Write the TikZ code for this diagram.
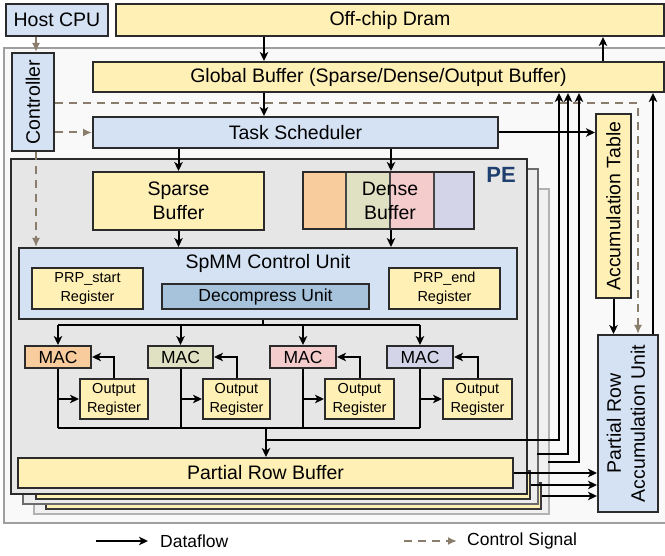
\documentclass[tikz,border=0pt]{standalone}
\usepackage{fontspec}
\usepackage{graphicx}
\setmainfont{Liberation Sans}
\usetikzlibrary{arrows.meta}

\definecolor{cblue}{HTML}{D5E2F4}
\definecolor{cyel}{HTML}{FFF0B5}
\definecolor{cdec}{HTML}{A7C3DC}
\definecolor{corg}{HTML}{F9CC9D}
\definecolor{colv}{HTML}{E0E0C3}
\definecolor{cpnk}{HTML}{F5CCCC}
\definecolor{clav}{HTML}{D3D4E8}
\definecolor{cctl}{HTML}{8B7D6B}
\definecolor{pefill}{HTML}{E6E6E6}
\definecolor{petext}{HTML}{1F3F6E}
\definecolor{edge}{HTML}{2B2B2B}

\newcommand\fbig{\fontsize{19.5}{24}\selectfont}
\newcommand\fmid{\fontsize{17.5}{21}\selectfont}
\newcommand\fsmall{\fontsize{14.5}{19}\selectfont}

% rectangle node spanning (x1,y1)-(x2,y2), y measured downwards
\newcommand\blk[7]{\node[#2, anchor=north west, inner sep=0pt,
  minimum width={(#5-#3)*1pt}, minimum height={(#6-#4)*1pt}] (#1) at (#3,#4) {#7};}

\tikzset{
  box/.style={draw=edge, line width=2pt, text=black},
  bluebox/.style={box, fill=cblue, font=\fbig},
  yelbox/.style={box, fill=cyel, font=\fbig},
  reg/.style={box, fill=cyel, font=\fsmall, align=center},
  macbox/.style={box, font=\fmid},
  layerbox/.style={line width=2pt},
  flow/.style={line width=2pt, draw=black, -{Stealth[length=9pt,width=8.5pt,inset=2.5pt]}},
  wire/.style={line width=2pt, draw=black},
  ctl/.style={draw=cctl, line width=2pt, dash pattern=on 8pt off 6pt,
    -{Latex[length=9pt,width=8pt]}},
}

\begin{document}
\begin{tikzpicture}[x=1pt,y=-1pt]
\useasboundingbox (0,0) rectangle (665,556);

% chip outline
\draw[draw=gray!75, fill=gray!5, line width=2pt] (4,48) rectangle (667,523);

% top level blocks
\blk{host}{bluebox}{5}{3}{107}{35}{Host CPU}
\blk{dram}{yelbox}{115}{3}{663}{35}{Off-chip Dram}
\blk{ctrlr}{bluebox}{11}{52}{53}{150}{\rotatebox{90}{Controller}}
\blk{gbuf}{yelbox}{92}{61}{663}{91}{Global Buffer (Sparse/Dense/Output Buffer)}
\blk{tsch}{bluebox}{92}{116}{497}{147}{Task Scheduler}
\blk{acct}{yelbox}{595}{113}{630}{297}{\rotatebox{90}{Accumulation Table}}
\blk{prau}{bluebox}{597}{334}{657}{511}{\rotatebox{90}{\begin{tabular}{@{}c@{}}Partial Row\\Accumulation Unit\end{tabular}}}

% stacked PEs behind the front one
\blk{pe3}{layerbox, draw=gray!60, fill=gray!12}{33}{188}{548}{513}{}
\blk{prb3}{box, draw=gray!45!black, fill=cyel}{45}{482}{540}{508}{}
\blk{pe2}{layerbox, draw=gray!85!black, fill=gray!14}{22}{168}{537}{503}{}
\blk{prb2}{box, draw=gray!40!black, fill=cyel}{35}{470}{529}{498}{}

% front PE
\blk{pe1}{box, fill=pefill}{10}{158}{526}{493}{}
\node[font=\bfseries\fontsize{22}{26}\selectfont, text=petext] (pelbl) at (501,175) {PE};

\blk{sbuf}{yelbox, align=center}{92}{171}{263}{229}{Sparse\\Buffer}
% dense buffer banks
\fill[corg] (302,171) rectangle (346,228);
\fill[colv] (346,171) rectangle (390,228);
\fill[cpnk] (390,171) rectangle (434,228);
\fill[clav] (434,171) rectangle (473,228);
\draw[gray!55!black, line width=1.6pt] (346,171) -- (346,228) (390,171) -- (390,228) (434,171) -- (434,228);
\blk{dbuf}{box, font=\fbig, align=center}{302}{171}{473}{228}{\hspace*{3pt}Dense\\\hspace*{3pt}Buffer}

\blk{spmm}{box, fill=cblue}{18}{247}{516}{318}{}
\node[font=\fbig] (spmmlbl) at (268,263) {SpMM Control Unit};
\blk{prps}{reg}{31}{267}{142}{308}{PRP\_start\\Register}
\blk{decomp}{box, fill=cdec, font=\fmid}{161}{283}{368}{308}{Decompress Unit}
\blk{prpe}{reg}{388}{267}{499}{308}{PRP\_end\\Register}

\blk{mac1}{macbox, fill=corg}{24}{345}{90}{367}{MAC}
\blk{mac2}{macbox, fill=colv}{147}{345}{212}{367}{MAC}
\blk{mac3}{macbox, fill=cpnk}{269}{345}{335}{367}{MAC}
\blk{mac4}{macbox, fill=clav}{386}{345}{452}{367}{MAC}

\blk{or1}{reg}{79}{378}{147}{418}{Output\\Register}
\blk{or2}{reg}{202}{378}{269}{418}{Output\\Register}
\blk{or3}{reg}{324}{378}{393}{418}{Output\\Register}
\blk{or4}{reg}{442}{378}{511}{418}{Output\\Register}

\blk{prb1}{yelbox}{17}{457}{512}{487}{Partial Row Buffer}

% routing columns and junctions
\coordinate (xa) at (264,0);
\coordinate (xb) at (603,0);
\coordinate (xc) at (391,0);
\coordinate (xd) at (653,0);
\coordinate (xe) at (559,0);
\coordinate (xf) at (568,0);
\coordinate (xg) at (579,0);
\coordinate (xh) at (36,0);
\coordinate (xi) at (638,0);
\coordinate (yctl) at (0,103);
\coordinate (busA) at (263,325);
\coordinate (busB) at (266,428);
\coordinate (busC) at (266,440);
\coordinate (pe2out) at (537,454);
\coordinate (pe3out) at (548,462);

% control signals
\draw[ctl] (xh |- host.south) -- (xh |- ctrlr.north);
\draw[ctl] (ctrlr.east |- tsch.west) -- (tsch.west);
\draw[ctl] (ctrlr.east |- yctl) -| (xi |- prau.north);
\draw[ctl] (xh |- ctrlr.south) -- (xh |- spmm.north);

% dataflow
\draw[flow] (xa |- dram.south) -- (xa |- gbuf.north);
\draw[flow] (xa |- gbuf.south) -- (xa |- tsch.north);
\draw[flow] (xb |- gbuf.north) -- (xb |- dram.south);
\draw[flow] (tsch.east) -- (tsch.east -| acct.west);
\draw[flow] (sbuf.north |- tsch.south) -- (sbuf.north);
\draw[flow] (xc |- tsch.south) -- (xc |- dbuf.north);
\draw[flow] (sbuf.south) -- (sbuf.south |- spmm.north);
\draw[flow] (xc |- dbuf.south) -- (xc |- spmm.north);
\draw[flow] (acct.south) -- (acct.south |- prau.north);
\draw[flow] (xd |- prau.north) -- (xd |- gbuf.south);

% SpMM unit to the MACs
\draw[wire] (busA |- spmm.south) -- (busA);
\draw[wire] (mac1.north |- busA) -- (mac4.north |- busA);
\foreach \m in {mac1,mac2,mac3,mac4}
  \draw[flow] (\m.north |- busA) -- (\m.north);

% MAC / output register loops
\foreach \m/\r in {mac1/or1,mac2/or2,mac3/or3,mac4/or4}{
  \draw[flow] (\r.north) |- (\m.east);
  \draw[wire] (\m.south) -- (\m.south |- busB);
  \draw[flow] (\m.south |- \r.west) -- (\r.west);
}
\draw[wire] (mac1.south |- busB) -- (mac4.south |- busB);
\draw[flow] (busB) -- (busB |- prb1.north);
\draw[flow] (busC) -| (xe |- gbuf.south);
\draw[flow] (pe2out) -| (xf |- gbuf.south);
\draw[flow] (pe3out) -| (xg |- gbuf.south);

% partial row buffers to the accumulation unit
\draw[flow] (prb1.east) -- (prb1.east -| prau.west);
\draw[flow] (prb2.east) -- (prb2.east -| prau.west);
\draw[flow] (prb3.east) -- (prb3.east -| prau.west);

% legend
\coordinate (lgA) at (96,541);
\coordinate (lgB) at (148,541);
\coordinate (lgC) at (404,541);
\coordinate (lgD) at (457,541);
\draw[flow] (lgA) -- (lgB);
\node[font=\fmid, anchor=west, inner sep=0pt] (lgflow) at (160,541) {Dataflow};
\draw[ctl] (lgC) -- (lgD);
\node[font=\fmid, anchor=west, inner sep=0pt] (lgctl) at (467,541) {Control Signal};
\end{tikzpicture}
\end{document}
